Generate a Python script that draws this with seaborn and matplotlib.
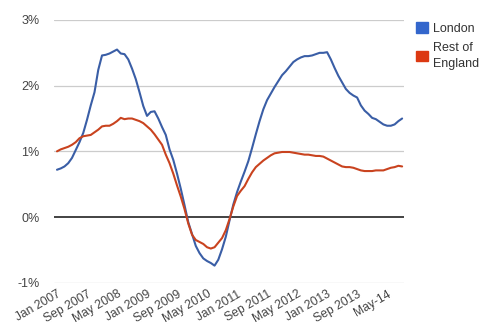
import numpy as np
import pandas as pd
import matplotlib
matplotlib.use("Agg")
import matplotlib.pyplot as plt
from matplotlib.patches import Patch
import seaborn as sns

# ---- data (monthly, Jan 2007 .. Sep 2014), % ----
london = [0.72, 0.74, 0.77, 0.82, 0.90, 1.02, 1.14, 1.28, 1.48, 1.70,
          1.90, 2.24, 2.46, 2.47, 2.49, 2.52, 2.55, 2.49, 2.48, 2.40,
          2.26, 2.10, 1.90, 1.69, 1.54, 1.60, 1.61, 1.50, 1.37, 1.25,
          1.03, 0.87, 0.66, 0.43, 0.18, -0.08, -0.26, -0.44, -0.55, -0.63,
          -0.67, -0.70, -0.74, -0.65, -0.49, -0.30, -0.05, 0.19, 0.38, 0.54,
          0.69, 0.85, 1.05, 1.26, 1.46, 1.64, 1.78, 1.88, 1.98, 2.07,
          2.16, 2.22, 2.29, 2.36, 2.40, 2.43, 2.45, 2.45, 2.46, 2.48,
          2.50, 2.50, 2.51, 2.40, 2.27, 2.15, 2.05, 1.95, 1.89, 1.85,
          1.82, 1.70, 1.62, 1.57, 1.51, 1.49, 1.45, 1.41, 1.39, 1.39,
          1.41, 1.46, 1.50]
rest = [1.00, 1.03, 1.05, 1.07, 1.10, 1.14, 1.20, 1.23, 1.24, 1.25,
        1.29, 1.33, 1.38, 1.39, 1.39, 1.42, 1.46, 1.51, 1.49, 1.50,
        1.50, 1.48, 1.46, 1.43, 1.38, 1.33, 1.26, 1.18, 1.10, 0.95,
        0.82, 0.66, 0.48, 0.31, 0.12, -0.10, -0.27, -0.35, -0.38, -0.41,
        -0.46, -0.48, -0.46, -0.39, -0.32, -0.20, -0.03, 0.16, 0.32, 0.40,
        0.47, 0.58, 0.68, 0.76, 0.81, 0.86, 0.90, 0.94, 0.97, 0.98,
        0.99, 0.99, 0.99, 0.98, 0.97, 0.96, 0.95, 0.95, 0.94, 0.93,
        0.93, 0.92, 0.89, 0.86, 0.83, 0.80, 0.77, 0.76, 0.76, 0.75,
        0.73, 0.71, 0.70, 0.70, 0.70, 0.71, 0.71, 0.71, 0.73, 0.75,
        0.76, 0.78, 0.77]
series_names = ["London", "Rest of\nEngland"]
tick_labels = ["Jan 2007", "Sep 2007", "May 2008", "Jan 2009", "Sep 2009",
               "May 2010", "Jan 2011", "Sep 2011", "May 2012", "Jan 2013",
               "Sep 2013", "May-14"]
y_ticks = [-1, 0, 1, 2, 3]

month_idx = np.arange(len(london))
df = pd.DataFrame({
    "month": np.concatenate([month_idx, month_idx]),
    "value": london + rest,
    "series": [series_names[0]] * len(london) + [series_names[1]] * len(rest),
})

sns.set_theme(style="white")
plt.rcParams["font.family"] = ["Liberation Sans", "DejaVu Sans"]

line_colors = {series_names[0]: "#3a5ea6", series_names[1]: "#c9431f"}
legend_colors = ["#3366cc", "#dc3912"]

fig = plt.figure(figsize=(4.90, 3.29), dpi=100)
ax = fig.add_axes([53.5 / 490, 1 - 282.7 / 329, (404 - 53.5) / 490, (282.7 - 20) / 329])

for yv in y_ticks:
    if yv == 0:
        ax.axhline(yv, color="#222222", lw=1.2, zorder=1)
    else:
        ax.axhline(yv, color="#cccccc", lw=0.9, zorder=0)

sns.lineplot(data=df, x="month", y="value", hue="series", palette=line_colors,
             linewidth=1.5, legend=False, ax=ax, zorder=3)

ax.set_ylim(-1, 3)
ax.set_xlim(-0.93, len(london) - 1 + 0.5)
ax.set_yticks(y_ticks)
ax.set_yticklabels([f"{v}%" for v in y_ticks], fontsize=9, color="#444444")
ax.set_xticks(np.arange(0, 8 * len(tick_labels), 8))
ax.set_xticklabels(tick_labels, fontsize=8.7, color="#444444", rotation=30,
                   ha="right", rotation_mode="anchor")
ax.tick_params(axis="y", length=0, pad=10)
ax.tick_params(axis="x", length=0, pad=4)
ax.set_xlabel("")
ax.set_ylabel("")
for s in ax.spines.values():
    s.set_visible(False)

handles = [Patch(facecolor=c, edgecolor=c) for c in legend_colors]
leg = fig.legend(handles, series_names, loc="upper left",
                 bbox_to_anchor=(405 / 490, 1 - 11 / 329), frameon=False,
                 fontsize=9, handlelength=0.9, handleheight=0.9,
                 handletextpad=0.45, labelspacing=0.55, labelcolor="#333333")
for t in leg.get_texts():
    t.set_linespacing(1.45)

fig.savefig("out.png", dpi=100)
